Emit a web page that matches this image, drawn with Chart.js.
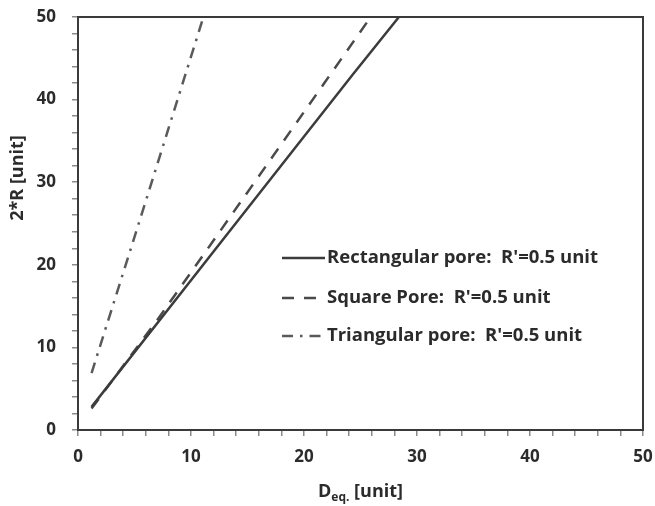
<!DOCTYPE html>
<html>
<head>
<meta charset="utf-8">
<script src="https://cdn.jsdelivr.net/npm/chart.js@4/dist/chart.umd.min.js"></script>
<style>
html,body{margin:0;padding:0;background:#fff;}
#wrap{width:655px;height:506px;position:relative;}
</style>
</head>
<body>
<div id="wrap"><canvas id="c" width="655" height="506"></canvas></div>
<script>
// Data
const rectX = [1.2, 12, 24.3, 28.4];
const rectY = [2.8, 21.6, 43.0, 50];
const squareX = [1.2, 7, 11.2, 21.8, 25.9];
const squareY = [2.6, 13.3, 21.4, 42, 50];
const triX = [1.2, 5.4, 11.1];
const triY = [6.9, 25.1, 50];
const seriesNames = ["Rectangular pore:  R'=0.5 unit", "Square Pore:  R'=0.5 unit", "Triangular pore:  R'=0.5 unit"];
const majorTicks = [0, 10, 20, 30, 40, 50];
const xTitleMain = "D", xTitleSub = "eq.", xTitleRest = " [unit]";
const yTitle = "2*R [unit]";

const FONT = "'Open Sans', Lato, sans-serif";
const TXT = "#2b2b2b";
const pts = (xs, ys) => xs.map((x, i) => ({x, y: ys[i]}));

const styles = [
  {color: "#3c3c3c", width: 2.5, dash: []},
  {color: "#4a4a4a", width: 2.5, dash: [12, 10]},
  {color: "#5a5a5a", width: 2.5, dash: [11, 7, 2.5, 7]}
];

const boxPlugin = {
  id: 'boxAndLegend',
  afterDraw(chart) {
    const {ctx, chartArea: a} = chart;
    ctx.save();
    // frame
    ctx.strokeStyle = "#3a3a3a";
    ctx.lineWidth = 2;
    ctx.setLineDash([]);
    ctx.strokeRect(a.left, a.top, a.right - a.left, a.bottom - a.top);

    // legend
    const rows = [258, 298, 336];
    ctx.font = "bold 18.5px " + FONT;
    ctx.textBaseline = "middle";
    ctx.textAlign = "left";
    seriesNames.forEach((name, i) => {
      const s = styles[i];
      ctx.strokeStyle = s.color;
      ctx.lineWidth = s.width;
      ctx.setLineDash(s.dash);
      ctx.beginPath();
      ctx.moveTo(282, rows[i]);
      ctx.lineTo(325, rows[i]);
      ctx.stroke();
      ctx.setLineDash([]);
      ctx.fillStyle = TXT;
      ctx.fillText(name, 327, rows[i]);
    });

    // x title with subscript
    ctx.fillStyle = TXT;
    ctx.textBaseline = "alphabetic";
    ctx.font = "bold 18px " + FONT;
    const w1 = ctx.measureText(xTitleMain).width;
    ctx.font = "bold 12px " + FONT;
    const w2 = ctx.measureText(xTitleSub).width;
    ctx.font = "bold 18px " + FONT;
    const w3 = ctx.measureText(xTitleRest).width;
    const total = w1 + w2 + w3;
    let x0 = (a.left + a.right) / 2 - total / 2;
    const base = 497;
    ctx.fillText(xTitleMain, x0, base);
    ctx.font = "bold 12px " + FONT;
    ctx.fillText(xTitleSub, x0 + w1, base + 4);
    ctx.font = "bold 18px " + FONT;
    ctx.fillText(xTitleRest, x0 + w1 + w2, base);

    // y title
    ctx.save();
    ctx.translate(18, 178);
    ctx.rotate(-Math.PI / 2);
    ctx.textAlign = "center";
    ctx.textBaseline = "middle";
    ctx.font = "bold 18px " + FONT;
    ctx.fillText(yTitle, 0, 0);
    ctx.restore();
    ctx.restore();
  }
};

const axisCommon = {
  type: 'linear',
  min: 0,
  max: 50,
  border: {display: false},
  grid: {display: true, drawOnChartArea: false, drawTicks: true, tickLength: 6, color: "#8a8a8a", lineWidth: 1.5},
  ticks: {
    stepSize: 2,
    autoSkip: false,
    maxRotation: 0,
    color: TXT,
    font: {family: FONT, size: 17, weight: 'bold'},
    callback: v => majorTicks.includes(v) ? String(v) : ''
  }
};

new Chart(document.getElementById('c'), {
  type: 'scatter',
  data: {
    datasets: [
      {label: seriesNames[0], data: pts(rectX, rectY)},
      {label: seriesNames[1], data: pts(squareX, squareY)},
      {label: seriesNames[2], data: pts(triX, triY)}
    ].map((d, i) => Object.assign(d, {
      showLine: true,
      borderColor: styles[i].color,
      borderWidth: styles[i].width,
      borderDash: styles[i].dash,
      pointRadius: 0,
      tension: 0,
      fill: false
    }))
  },
  options: {
    responsive: false,
    animation: false,
    layout: {padding: {top: 17, right: 12, left: 0, bottom: 0}},
    plugins: {legend: {display: false}, tooltip: {enabled: false}},
    scales: {
      x: Object.assign({}, axisCommon, {
        ticks: Object.assign({}, axisCommon.ticks, {padding: 11}),
        afterFit(s) { s.height = 76; s.paddingLeft = 0; s.paddingRight = 0; }
      }),
      y: Object.assign({}, axisCommon, {
        ticks: Object.assign({}, axisCommon.ticks, {padding: 16}),
        afterFit(s) { s.width = 78; s.paddingTop = 0; s.paddingBottom = 0; }
      })
    }
  },
  plugins: [boxPlugin]
});
</script>
</body>
</html>
